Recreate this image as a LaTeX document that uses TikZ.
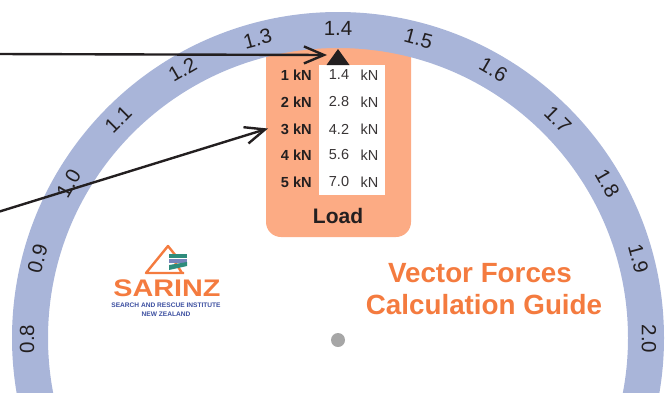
\documentclass[tikz,border=0pt]{standalone}
\usepackage{fontspec}
\setmainfont{Liberation Sans}
\usetikzlibrary{arrows.meta}
\definecolor{ringc}{HTML}{A9B5D9}
\definecolor{panelc}{HTML}{FCAB84}
\definecolor{titlec}{HTML}{F47B3F}
\definecolor{inkc}{HTML}{231F20}
\definecolor{logob}{HTML}{3C4FA0}
\definecolor{logog}{HTML}{2E8C7C}
\tikzset{
  scalelab/.style={font=\fontsize{20.5}{22}\selectfont,text=inkc,inner sep=0pt},
  rowlab/.style={font=\fontsize{14.6}{16}\selectfont\bfseries,text=inkc,inner sep=0pt,anchor=east},
  vallab/.style={font=\fontsize{14.5}{16}\selectfont,text=inkc!90,inner sep=0pt},
  pointer/.style={draw=inkc,line width=2.4pt,-{Straight Barb[length=20pt,width=17pt,line width=2.4pt]}},
  titlelab/.style={font=\fontsize{27.8}{30}\selectfont\bfseries,text=titlec,inner sep=0pt},
}
\begin{document}
\begin{tikzpicture}[x=1pt,y=-1pt]
\useasboundingbox (0,0) rectangle (672,392);
\clip (0,0) rectangle (672,392);
% orange panel
\fill[panelc,rounded corners=15pt] (266,30) rectangle (411,237);
% ring
\draw[ringc,line width=36pt] (338,338) circle[radius=308];
% scale labels
\foreach \v/\a in {0.8/180,0.9/165,1.0/150,1.1/135,1.2/120,1.3/105,1.4/90,1.5/75,1.6/60,1.7/45,1.8/30,1.9/15,2.0/0}{
  \pgfmathsetmacro{\rr}{\a-90}
  \node[scalelab,rotate=\rr] (s\a) at ({338+311*cos(\a)},{339-311*sin(\a)}) {\v};
}
% table
\fill[white] (319,65) rectangle (385,195);
\fill[inkc] (338,49) -- (349.5,65) -- (326.5,65) -- cycle;
\foreach \n/\f/\y in {1/1.4/75,2/2.8/102,3/4.2/129,4/5.6/155,5/7.0/182}{
  \node[rowlab] (row\n) at (312,\y) {\n\ kN};
  \node[vallab] (val\n) at (339,\y) {\f};
  \node[vallab] (unit\n) at (369.5,\y) {kN};
}
\node[font=\fontsize{21}{23}\selectfont\bfseries,text=inkc,inner sep=0pt] (load) at (338,216) {Load};
% pivot
\fill[black!35] (338,340) circle[radius=7];
% title
\node[titlelab] (t1) at (480,273) {Vector Forces};
\node[titlelab] (t2) at (484,305) {Calculation Guide};
% logo
\draw[titlec,line width=2.4pt,line join=round] (176,256) -- (168,246) -- (146,273) -- (184,273) (175,262) -- (182,273);
\fill[logog] (169,254) rectangle (187,258);
\fill[logob!70] (169,259) rectangle (187,263);
\fill[logog] (169,265) -- (187,262) -- (187,266) -- (169,270) -- cycle;
\node[inner sep=0pt,font=\fontsize{24}{26}\selectfont\bfseries,text=titlec,xscale=1.2] (logo) at (167,288) {SARINZ};
\node[inner sep=0pt,font=\fontsize{6.6}{7}\selectfont\bfseries,text=logob] (logo2) at (166,305) {SEARCH AND RESCUE INSTITUTE};
\node[inner sep=0pt,font=\fontsize{6.6}{7}\selectfont\bfseries,text=logob] (logo3) at (166,314.5) {NEW ZEALAND};
% pointers
\coordinate (a) at (-2,54);
\coordinate (ae) at (327,55);
\coordinate (b) at (-2,212);
\coordinate (be) at (268,128.5);
\draw[pointer] (a) -- (ae);
\draw[pointer] (b) -- (be);
\end{tikzpicture}
\end{document}
